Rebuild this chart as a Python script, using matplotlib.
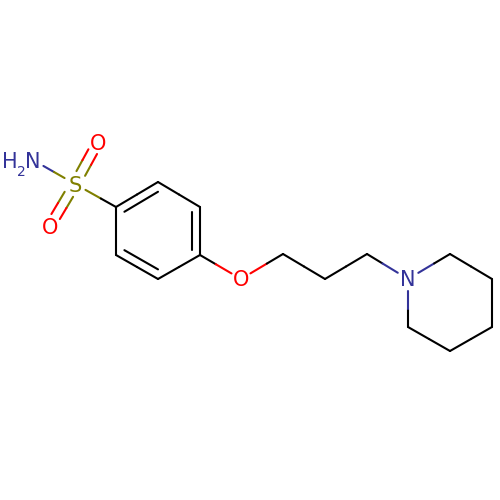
import numpy as np
import matplotlib
matplotlib.use('Agg')
import matplotlib.pyplot as plt

# Atom positions (pixels, y down)
atom_names = ['N1', 'S', 'O1', 'O2', 'C1', 'C2', 'C3', 'C4', 'C5', 'C6', 'O3',
              'C7', 'C8', 'C9', 'N2', 'C10', 'C11', 'C12', 'C13', 'C14']
atom_x = [33, 75, 98, 50, 116, 158, 200, 200, 158, 116, 241,
          283, 325, 367, 408, 450, 492, 492, 450, 408]
atom_y = [160, 184, 142, 226, 207, 182, 207, 255, 279, 255, 279,
          254, 279, 254, 279, 254, 279, 327, 351, 327]
single_bonds = [('N1', 'S'), ('S', 'C1'), ('C1', 'C2'), ('C2', 'C3'), ('C3', 'C4'),
                ('C4', 'C5'), ('C5', 'C6'), ('C6', 'C1'), ('C4', 'O3'), ('O3', 'C7'),
                ('C7', 'C8'), ('C8', 'C9'), ('C9', 'N2'), ('N2', 'C10'), ('C10', 'C11'),
                ('C11', 'C12'), ('C12', 'C13'), ('C13', 'C14'), ('C14', 'N2')]
double_bonds = [('S', 'O1'), ('S', 'O2')]
inner_bonds = [('C1', 'C2'), ('C3', 'C4'), ('C5', 'C6')]

colors = {'C': 'black', 'N': '#333399', 'O': '#ff0000', 'S': '#808000'}
clip = {'C': 0, 'N': 12, 'O': 11, 'S': 12}
pos = {n: np.array([x, y], dtype=float) for n, x, y in zip(atom_names, atom_x, atom_y)}
LW = 1.5
LABEL_SIZE = 15


def draw_bond(ax, a, b, offset=0.0):
    p, q = pos[a], pos[b]
    d = (q - p) / np.linalg.norm(q - p)
    n = np.array([-d[1], d[0]])
    start = p + d * clip[a[0]] + n * offset
    end = q - d * clip[b[0]] + n * offset
    mid = (start + end) / 2
    # each half takes the colour of its own atom
    ax.plot([start[0], mid[0]], [start[1], mid[1]], color=colors[a[0]], lw=LW, solid_capstyle='round')
    ax.plot([mid[0], end[0]], [mid[1], end[1]], color=colors[b[0]], lw=LW, solid_capstyle='round')


fig = plt.figure(figsize=(5, 5), dpi=100)
ax = fig.add_axes([0, 0, 1, 1])
ax.set_xlim(0, 500)
ax.set_ylim(500, 0)
ax.axis('off')

for a, b in single_bonds:
    draw_bond(ax, a, b)
for a, b in double_bonds:
    draw_bond(ax, a, b, 4.9)
    draw_bond(ax, a, b, -4.9)

# Aromatic inner lines: ring edges pulled towards the ring centre
center = np.mean([pos[n] for n in ['C1', 'C2', 'C3', 'C4', 'C5', 'C6']], axis=0)
for a, b in inner_bonds:
    p = center + (pos[a] - center) * 0.8
    q = center + (pos[b] - center) * 0.8
    ax.plot([p[0], q[0]], [p[1], q[1]], color='black', lw=LW, solid_capstyle='round')

for name in ['S', 'O1', 'O2', 'O3', 'N1', 'N2']:
    ax.text(pos[name][0], pos[name][1] - 0.5, name[0], color=colors[name[0]], fontsize=LABEL_SIZE,
            ha='center', va='center_baseline')
ax.text(9.5, 159.5, 'H', color=colors['N'], fontsize=LABEL_SIZE, ha='center', va='center_baseline')
ax.text(21, 170, '2', color=colors['N'], fontsize=10, ha='center', va='center_baseline')

fig.savefig('out.png', dpi=100, facecolor='white')
